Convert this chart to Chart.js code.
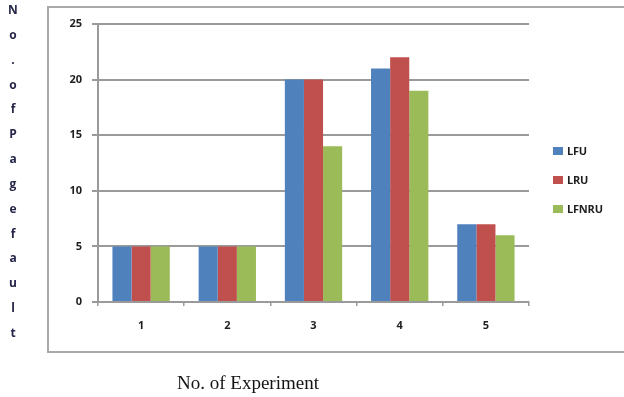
<!DOCTYPE html>
<html>
<head>
<meta charset="utf-8">
<script src="https://cdn.jsdelivr.net/npm/chart.js@4/dist/chart.umd.min.js"></script>
<style>
  html, body { margin: 0; padding: 0; background: #fff; overflow: hidden; }
  #wrap { position: relative; width: 624px; height: 397px; }
  #frame { position: absolute; left: 47px; top: 6px; width: 640px; height: 347px;
           border: 2px solid #a9a9a9; box-sizing: border-box; }
  #chart { position: absolute; left: 0; top: 0; }
  #ytitle { position: absolute; left: 3px; top: -2px; width: 20px; text-align: center;
            font: bold 12px 'Open Sans', sans-serif; color: #26264a; }
  #ytitle div { height: 24.85px; line-height: 24.85px; }
  #xtitle { position: absolute; left: 98px; width: 300px; top: 372px; text-align: center;
            font: 19px 'Liberation Serif', serif; color: #141414; }
  #legend { position: absolute; left: 553px; top: 141px; font: bold 11px 'Open Sans', sans-serif; color: #1e1e1e; }
  #legend .item { height: 29px; display: flex; align-items: flex-start; }
  #legend .sw { width: 10px; height: 8px; margin-top: 6px; margin-right: 4px; }
  #legend .tx { line-height: 20px; letter-spacing: -0.2px; }
</style>
</head>
<body>
<div id="wrap">
  <div id="frame"></div>
  <canvas id="chart" width="624" height="397"></canvas>
  <div id="ytitle"></div>
  <div id="xtitle"></div>
  <div id="legend"></div>
</div>
<script>
// Page faults per experiment for each replacement policy
const experiments = ['1', '2', '3', '4', '5'];
const lfu   = [5, 5, 20, 21, 7];
const lru   = [5, 5, 20, 22, 7];
const lfnru = [5, 5, 14, 19, 6];
const seriesNames = ['LFU', 'LRU', 'LFNRU'];
const yTicks = [0, 5, 10, 15, 20, 25];
const xTitle = 'No. of Experiment';
const yTitle = 'No. of Page fault';

const colors = ['#4F81BD', '#C0504D', '#9BBB59'];
const seriesValues = [lfu, lru, lfnru];
const gridGray = '#9a9a9a';
const tickFont = { family: "'Open Sans', sans-serif", size: 11, weight: 'bold' };

new Chart(document.getElementById('chart').getContext('2d'), {
  type: 'bar',
  data: {
    labels: experiments,
    datasets: seriesNames.map((name, i) => ({
      label: name,
      data: seriesValues[i],
      backgroundColor: colors[i],
      borderWidth: 0,
      barPercentage: 1,
      categoryPercentage: 0.665
    }))
  },
  options: {
    responsive: false,
    animation: false,
    layout: { padding: { left: 0, top: 24, right: 95, bottom: 0 } },
    plugins: { legend: { display: false }, tooltip: { enabled: false } },
    scales: {
      x: {
        grid: { offset: true, drawOnChartArea: false, drawTicks: true, tickLength: 4,
                color: gridGray, lineWidth: 1.5 },
        border: { color: gridGray, width: 2 },
        ticks: { padding: 13, color: '#1e1e1e', font: tickFont },
        afterFit(scale) { scale.height = 95; }
      },
      y: {
        min: 0,
        max: yTicks[yTicks.length - 1],
        afterBuildTicks(scale) { scale.ticks = yTicks.map(v => ({ value: v })); },
        grid: { color: gridGray, lineWidth: 2, tickLength: 6 },
        border: { color: gridGray, width: 2 },
        ticks: { padding: 10, color: '#1e1e1e', font: tickFont },
        afterFit(scale) { scale.width = 98; }
      }
    }
  }
});

// Axis titles
const yt = document.getElementById('ytitle');
yTitle.replace(/\s+/g, '').split('').forEach(ch => {
  const d = document.createElement('div');
  d.textContent = ch;
  yt.appendChild(d);
});
document.getElementById('xtitle').textContent = xTitle;

// Legend
const lg = document.getElementById('legend');
seriesNames.forEach((name, i) => {
  const item = document.createElement('div');
  item.className = 'item';
  const sw = document.createElement('span');
  sw.className = 'sw';
  sw.style.background = colors[i];
  const tx = document.createElement('span');
  tx.className = 'tx';
  tx.textContent = name;
  item.appendChild(sw);
  item.appendChild(tx);
  lg.appendChild(item);
});
</script>
</body>
</html>
